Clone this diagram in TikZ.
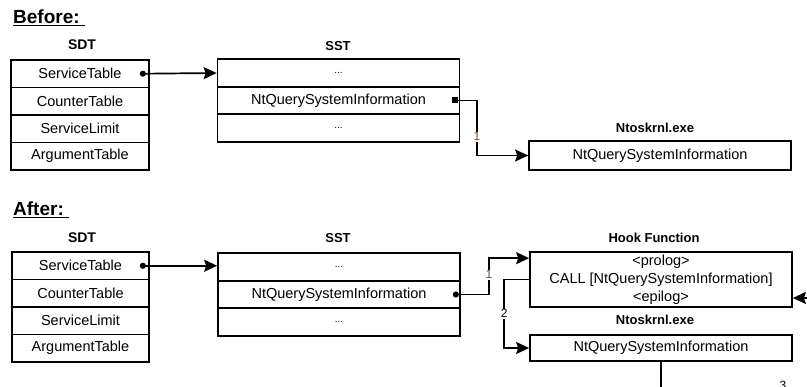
\documentclass[tikz,border=0pt]{standalone}
\usepackage{fontspec}
\setmainfont{Liberation Sans}
\usetikzlibrary{arrows.meta}
\definecolor{lblbrown}{RGB}{125,75,25}
\begin{document}
\begin{tikzpicture}[x=1pt,y=-1pt,
  cell/.style={draw=black, line width=1.7pt, inner sep=0pt, font=\fontsize{14.5}{18}\selectfont},
  sdtcell/.style={cell, minimum width=138pt, minimum height=27.5pt},
  sstcell/.style={cell, minimum width=242pt, minimum height=27.5pt},
  fncell/.style={cell, minimum width=262pt},
  lab/.style={font=\fontsize{13}{15}\bfseries\selectfont, inner sep=0pt},
  title/.style={font=\fontsize{19}{22}\bfseries\selectfont, inner sep=0pt},
  dots/.style={font=\fontsize{10}{11}\selectfont},
  num/.style={fill=white, inner sep=1pt, font=\fontsize{12}{14}\selectfont},
  conn/.style={line width=1.7pt, -{Stealth[length=13pt,width=12pt,inset=2pt]}},
  dotconn/.style={line width=1.7pt, {Circle[length=6pt]}-{Stealth[length=13pt,width=12pt,inset=2pt]}},
  sqconn/.style={line width=1.7pt, {Square[length=6pt]}-{Stealth[length=13pt,width=12pt,inset=2pt]}},
]
\useasboundingbox (0,0) rectangle (807,387);

% ---------------- Before ----------------
\node[title, anchor=base west] (before) at (13,23.3) {\underline{Before:\ }};
\node[lab, font=\fontsize{14}{16}\bfseries\selectfont] (sdtbL) at (82,45) {SDT};
\node[sdtcell] (sdtb1) at (80,73.75) {ServiceTable};
\node[sdtcell] (sdtb2) at (80,101.25) {CounterTable};
\node[sdtcell] (sdtb3) at (80,128.75) {ServiceLimit};
\node[sdtcell] (sdtb4) at (80,156.25) {ArgumentTable};

\node[lab] (sstbL) at (338,46) {SST};
\node[sstcell, dots] (sstb1) at (338.5,73) {...};
\node[sstcell] (sstb2) at (338.5,100.5) {NtQuerySystemInformation};
\node[sstcell, dots] (sstb3) at (338.5,128) {...};

\node[lab] (ntbL) at (655,128) {Ntoskrnl.exe};
\node[fncell, minimum height=29pt] (ntb) at (660,155.5) {NtQuerySystemInformation};

\draw[dotconn] ([xshift=-10pt]sdtb1.east) -- (sstb1.west);
\draw[sqconn] ([xshift=-8pt]sstb2.east) -- ++(24.5,0)
  |- node[pos=0.33, num, text=lblbrown] (nb1) {1} (ntb.west);

% ---------------- After ----------------
\node[title, anchor=base west] (after) at (13,216) {\underline{After:\ }};
\node[lab, font=\fontsize{14}{16}\bfseries\selectfont] (sdtaL) at (82,238) {SDT};
\node[sdtcell, minimum width=137pt] (sdta1) at (80.5,265.75) {ServiceTable};
\node[sdtcell, minimum width=137pt] (sdta2) at (80.5,293.25) {CounterTable};
\node[sdtcell, minimum width=137pt] (sdta3) at (80.5,320.75) {ServiceLimit};
\node[sdtcell, minimum width=137pt] (sdta4) at (80.5,348.25) {ArgumentTable};

\node[lab] (sstaL) at (338,238) {SST};
\node[sstcell, dots] (ssta1) at (339,267) {...};
\node[sstcell] (ssta2) at (339,294.5) {NtQuerySystemInformation};
\node[sstcell, dots] (ssta3) at (339,322) {...};

\node[lab] (hookL) at (654,238) {Hook Function};
\node[fncell, minimum height=55pt, align=center] (hook) at (661,279.5)
  {<prolog>\\CALL [NtQuerySystemInformation]\\<epilog>};

\node[lab] (ntaL) at (655,319.5) {Ntoskrnl.exe};
\node[fncell, minimum height=26pt] (nta) at (661,348) {NtQuerySystemInformation};

\draw[dotconn] ([xshift=-10pt]sdta1.east) -- (ssta1.west |- sdta1.east);
\draw[dotconn] ([xshift=-8pt]ssta2.east) -- ++(36,0)
  |- node[pos=0.27, num, text=lblbrown] (na1) {1} ([yshift=-7pt]hook.north west);
\draw[conn] (hook.west) -- ++(-25,0)
  |- node[pos=0.25, num] (na2) {2} (nta.west);

\coordinate (in3) at (807,298);
\draw[conn] (in3) -- (hook.east |- in3);
\coordinate (down3) at (661,395);
\draw[line width=1.7pt] (nta.south) -- (nta.south |- down3);
\node[num, fill=none, anchor=base] (na3) at (783,390) {3};
\end{tikzpicture}
\end{document}
